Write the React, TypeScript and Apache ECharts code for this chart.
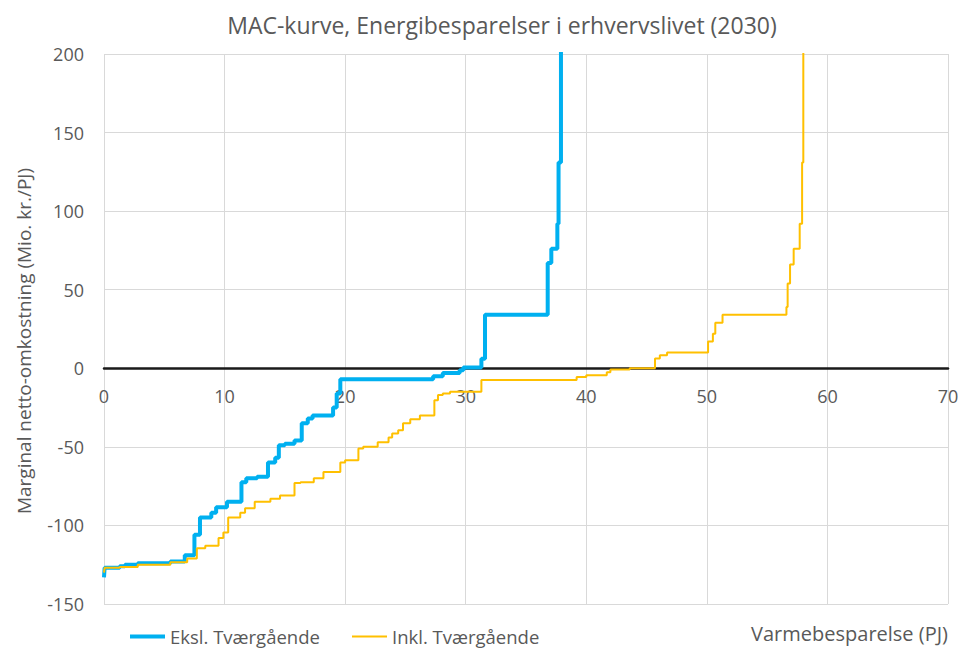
import React, { useEffect, useRef } from "react";
import * as echarts from "echarts";

const title = "MAC-kurve, Energibesparelser i erhvervslivet (2030)";
const yAxisTitle = "Marginal netto-omkostning (Mio. kr./PJ)";
const xAxisTitle = "Varmebesparelse (PJ)";
const seriesNames = ["Eksl. Tværgående", "Inkl. Tværgående"];

const yTicks = { min: -150, max: 200, interval: 50 };
const xTicks = { min: 0, max: 70, interval: 10 };

// Eksl. Tværgående: cumulative savings (PJ) where each step starts, and its cost
const eksX = [0, 0.05, 1.3, 1.74, 2.8, 5.5, 6.7, 7.5, 7.96, 8.9, 9.3, 10.2, 11.4, 11.8, 12.7, 13.6, 14.2, 14.5, 15.0, 15.8, 16.4, 16.9, 17.3, 19.0, 19.3, 19.6, 27.3, 28.1, 29.5, 29.8, 31.3, 31.6, 36.8, 37.1, 37.6, 37.7, 37.9];
const eksY = [-133, -127, -126, -125, -124, -123, -119, -106, -95, -92, -88.5, -85, -72.5, -70, -69, -60, -57, -49, -48, -46, -35, -32, -30, -25, -16, -7, -5, -3, -1.3, 0.5, 6, 34, 67, 76, 92, 131, 400];

// Inkl. Tværgående
const inkX = [0, 0.05, 1.3, 2.8, 5.5, 6.9, 7.7, 8.4, 9.5, 9.9, 10.3, 11.3, 11.7, 12.5, 13.8, 14.6, 15.8, 16.3, 17.4, 18.2, 19.6, 20.0, 21.1, 21.5, 22.7, 23.6, 23.9, 24.4, 24.8, 25.4, 26.2, 27.4, 27.7, 28.1, 28.7, 31.3, 39.2, 40.0, 41.7, 42.0, 43.6, 45.7, 46.1, 46.7, 50.1, 50.5, 50.7, 51.3, 56.6, 56.7, 56.9, 57.2, 57.7, 57.9, 58.0];
const inkY = [-130, -127, -126.5, -125, -123.5, -121, -114.5, -113, -108, -104.5, -95, -92, -89, -85, -83, -81, -73, -72.5, -70, -66, -60, -58.5, -51, -50, -47, -44, -41.5, -39.5, -35, -32.5, -30, -20.4, -17, -16, -15, -7.5, -5.5, -4.5, -2.5, -0.7, 0, 6.2, 8.3, 10, 17, 22, 29, 34, 39, 54, 66, 76, 92, 131, 400];

const FONT = "'Open Sans', sans-serif";
const TEXT = "#595959";
const BLUE = "#00b0f0";
const YELLOW = "#ffc000";

const GRID_TOP = 54;
const GRID_BOTTOM = 45;
const CHART_H = 649;

export default function App() {
  const ref = useRef<HTMLDivElement>(null);
  useEffect(() => {
    if (!ref.current) return;
    const chart = echarts.init(ref.current, undefined, { renderer: "svg" });
    const plotH = CHART_H - GRID_TOP - GRID_BOTTOM;
    const zeroOffset = (plotH * (0 - yTicks.min)) / (yTicks.max - yTicks.min);
    chart.setOption({
      animation: false,
      backgroundColor: "#ffffff",
      textStyle: { fontFamily: FONT },
      title: {
        text: title,
        left: 497,
        top: 8,
        textAlign: "center",
        textStyle: { fontFamily: FONT, fontSize: 23, fontWeight: "normal", color: TEXT },
      },
      legend: [
        {
          left: 130,
          top: 627,
          padding: 0,
          icon: "rect",
          itemWidth: 35,
          itemHeight: 4,
          textStyle: { fontFamily: FONT, fontSize: 18.5, color: TEXT },
          data: [seriesNames[0]],
        },
        {
          left: 352,
          top: 627,
          padding: 0,
          icon: "rect",
          itemWidth: 35,
          itemHeight: 2,
          textStyle: { fontFamily: FONT, fontSize: 18.5, color: TEXT },
          data: [seriesNames[1]],
        },
      ],
      grid: { left: 104, right: 14, top: GRID_TOP, bottom: GRID_BOTTOM, containLabel: false },
      xAxis: {
        type: "value",
        min: xTicks.min,
        max: xTicks.max,
        interval: xTicks.interval,
        position: "bottom",
        offset: -zeroOffset,
        axisLine: { show: true, onZero: false, lineStyle: { color: "#1a1a1a", width: 2.5 } },
        axisTick: { show: false },
        axisLabel: { color: TEXT, fontSize: 18, fontFamily: FONT, margin: 19 },
        splitLine: { show: true, lineStyle: { color: "#d9d9d9", width: 1 } },
      },
      yAxis: {
        type: "value",
        min: yTicks.min,
        max: yTicks.max,
        interval: yTicks.interval,
        axisLine: { show: false },
        axisTick: { show: false },
        axisLabel: { color: TEXT, fontSize: 18, fontFamily: FONT, margin: 20 },
        splitLine: { show: true, lineStyle: { color: "#d9d9d9", width: 1 } },
      },
      graphic: [
        {
          type: "text",
          x: 24,
          y: 341,
          rotation: Math.PI / 2,
          style: {
            text: yAxisTitle,
            fontFamily: FONT,
            fontSize: 19,
            fill: TEXT,
            align: "center",
            verticalAlign: "middle",
          },
        },
        {
          type: "text",
          x: 948,
          y: 633,
          style: {
            text: xAxisTitle,
            fontFamily: FONT,
            fontSize: 20,
            fill: TEXT,
            align: "right",
            verticalAlign: "middle",
          },
        },
      ],
      series: [
        {
          name: seriesNames[0],
          type: "line",
          step: "end",
          symbol: "none",
          clip: true,
          lineStyle: { color: BLUE, width: 4 },
          itemStyle: { color: BLUE },
          data: eksX.map((x, i) => [x, eksY[i]]),
          z: 2,
        },
        {
          name: seriesNames[1],
          type: "line",
          step: "end",
          symbol: "none",
          clip: true,
          lineStyle: { color: YELLOW, width: 2 },
          itemStyle: { color: YELLOW },
          data: inkX.map((x, i) => [x, inkY[i]]),
          z: 3,
        },
      ],
    });
    return () => chart.dispose();
  }, []);
  return (
    <div
      ref={ref}
      style={{ position: "fixed", left: 0, top: 0, width: 962, height: 649 }}
    />
  );
}
